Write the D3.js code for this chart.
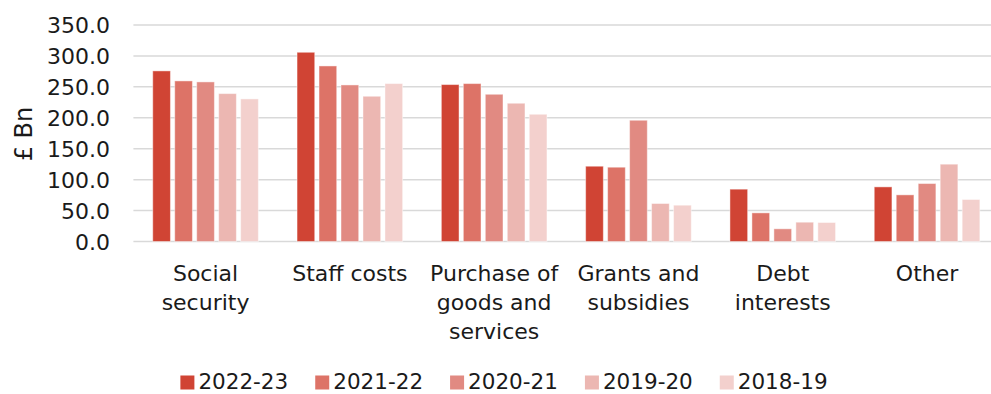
<!DOCTYPE html>
<html>
<head>
<meta charset="utf-8">
<script src="https://cdn.jsdelivr.net/npm/d3@7"></script>
<style>
  html, body { margin: 0; padding: 0; background: #fff; }
  svg { display: block; font-family: "DejaVu Sans", sans-serif; }
</style>
</head>
<body>
<svg id="chart" width="991" height="394"></svg>
<script>
// Public spending by category, £ billion
const categories = [
  ["Social", "security"],
  ["Staff costs"],
  ["Purchase of", "goods and", "services"],
  ["Grants and", "subsidies"],
  ["Debt", "interests"],
  ["Other"]
];
const seriesNames = ["2022-23", "2021-22", "2020-21", "2019-20", "2018-19"];
const seriesColors = ["#d04434", "#dd7367", "#e18a82", "#ecb7b2", "#f3d0cd"];

const values2022_23 = [275.8, 305.9, 253.7, 121.7, 84.6, 88.3];
const values2021_22 = [259.6, 283.8, 255.3, 120.1, 46.3, 75.4];
const values2020_21 = [258.0, 253.1, 238.0, 196.0, 20.5, 93.7];
const values2019_20 = [239.1, 234.8, 223.5, 61.4, 31.2, 125.0];
const values2018_19 = [230.5, 255.3, 205.7, 58.7, 30.7, 67.9];
const seriesValues = [values2022_23, values2021_22, values2020_21, values2019_20, values2018_19];

const yTicks = [0, 50, 100, 150, 200, 250, 300, 350];

const svg = d3.select("#chart");
const catKeys = categories.map(c => c.join(" "));

const x = d3.scaleBand().domain(catKeys).range([133.4, 999.2]).padding(0);
const xs = d3.scaleBand().domain(seriesNames).range([0, x.bandwidth()])
  .paddingInner(0.195).paddingOuter(0.88);
const y = d3.scaleLinear().domain([0, 350]).range([241.5, 25]);

// gridlines
svg.append("g")
  .selectAll("line")
  .data(yTicks)
  .join("line")
  .attr("x1", 133.4).attr("x2", 991)
  .attr("y1", d => y(d)).attr("y2", d => y(d))
  .attr("stroke", "#d9d9d9").attr("stroke-width", 1.5);

// y axis labels
const yAxis = d3.axisLeft(y).tickValues(yTicks).tickFormat(d3.format(".1f")).tickSize(0).tickPadding(0);
const yg = svg.append("g").attr("transform", "translate(110,0)").call(yAxis);
yg.select(".domain").remove();
yg.selectAll("text")
  .attr("font-family", "DejaVu Sans, sans-serif")
  .attr("font-size", 22).attr("fill", "#1a1a1a").attr("dy", "0.36em");

// y axis title
svg.append("text")
  .attr("transform", "translate(32,134) rotate(-90)")
  .attr("text-anchor", "middle")
  .attr("font-size", 24).attr("fill", "#1a1a1a")
  .text("£ Bn");

// bars
const groups = svg.append("g").selectAll("g")
  .data(categories.map((c, i) => ({ key: catKeys[i], i })))
  .join("g")
  .attr("transform", d => `translate(${x(d.key)},0)`);

groups.selectAll("rect")
  .data(d => seriesNames.map((s, j) => ({ s, j, v: seriesValues[j][d.i] })))
  .join("rect")
  .attr("x", d => xs(d.s))
  .attr("width", xs.bandwidth())
  .attr("y", d => y(d.v))
  .attr("height", d => y(0) - y(d.v))
  .attr("fill", d => seriesColors[d.j])
  .attr("stroke", "#ffffff").attr("stroke-opacity", 0.45).attr("stroke-width", 1);

// category labels
const xLabels = svg.append("g").selectAll("text")
  .data(categories.map((c, i) => ({ lines: c, key: catKeys[i] })))
  .join("text")
  .attr("text-anchor", "middle")
  .attr("font-size", 22).attr("fill", "#1a1a1a")
  .attr("x", d => x(d.key) + x.bandwidth() / 2)
  .attr("y", 281);
xLabels.selectAll("tspan")
  .data(d => d.lines.map(l => ({ l, cx: x(d.key) + x.bandwidth() / 2 })))
  .join("tspan")
  .attr("x", d => d.cx)
  .attr("dy", (d, i) => i === 0 ? 0 : 29)
  .text(d => d.l);

// legend
const legend = svg.append("g");
const items = legend.selectAll("g").data(seriesNames).join("g");
items.append("rect")
  .attr("width", 14).attr("height", 14)
  .attr("y", 375.5)
  .attr("fill", (d, i) => seriesColors[i]);
items.append("text")
  .attr("x", 18).attr("y", 388.5)
  .attr("font-size", 21.5).attr("fill", "#1a1a1a")
  .text(d => d);
let cursor = 0;
const positions = [];
items.each(function () {
  const w = 18 + this.querySelector("text").getComputedTextLength();
  positions.push(cursor);
  cursor += w + 27;
});
const totalW = cursor - 27;
const startX = 504 - totalW / 2;
items.attr("transform", (d, i) => `translate(${startX + positions[i]},0)`);
</script>
</body>
</html>
